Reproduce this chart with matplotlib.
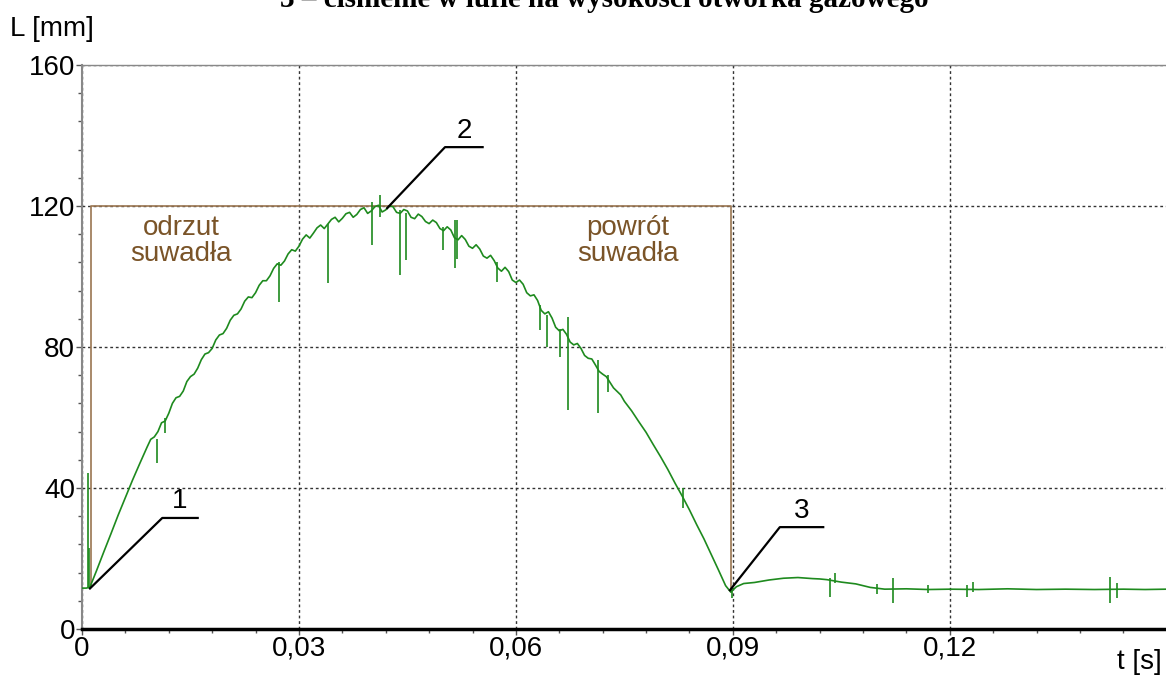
import matplotlib
matplotlib.use('Agg')
import matplotlib.pyplot as plt
from matplotlib.ticker import MultipleLocator, FuncFormatter

# przebieg L(t)
t_s = [0.0, 0.0006, 0.0011, 0.002, 0.003, 0.004, 0.005, 0.006, 0.007, 0.008,
       0.009, 0.0095, 0.010, 0.0105, 0.011, 0.0115, 0.012, 0.0125, 0.013, 0.0135,
       0.014, 0.0145, 0.015, 0.0155, 0.016, 0.0165, 0.017, 0.0175, 0.018, 0.0185,
       0.019, 0.0195, 0.020, 0.0205, 0.021, 0.0215, 0.022, 0.0225, 0.023, 0.0235,
       0.024, 0.0245, 0.025, 0.0255, 0.026, 0.0265, 0.027, 0.0275, 0.028, 0.0285,
       0.029, 0.0295, 0.030, 0.0305, 0.031, 0.0315, 0.032, 0.0325, 0.033, 0.0335,
       0.034, 0.0345, 0.035, 0.0355, 0.036, 0.0365, 0.037, 0.0375, 0.038, 0.0385,
       0.039, 0.0395, 0.040, 0.0405, 0.041, 0.0415, 0.042, 0.0425, 0.043, 0.0435,
       0.044, 0.0445, 0.045, 0.0455, 0.046, 0.0465, 0.047, 0.0475, 0.048, 0.0485,
       0.049, 0.0495, 0.050, 0.0505, 0.051, 0.0515, 0.052, 0.0525, 0.053, 0.0535,
       0.054, 0.0545, 0.055, 0.0555, 0.056, 0.0565, 0.057, 0.0575, 0.058, 0.0585,
       0.059, 0.0595, 0.060, 0.0605, 0.061, 0.0615, 0.062, 0.0625, 0.063, 0.0635,
       0.064, 0.0645, 0.065, 0.0655, 0.066, 0.0665, 0.067, 0.0675, 0.068, 0.0685,
       0.069, 0.0695, 0.070, 0.0705, 0.071, 0.0715, 0.072, 0.0725, 0.073, 0.0735,
       0.074, 0.0745, 0.075, 0.076, 0.077, 0.078, 0.079, 0.080, 0.081, 0.082,
       0.083, 0.084, 0.085, 0.086, 0.087, 0.088, 0.089, 0.0897, 0.0905, 0.0915,
       0.093, 0.095, 0.097, 0.099, 0.101, 0.102, 0.103, 0.105, 0.107, 0.109,
       0.111, 0.114, 0.117, 0.120, 0.124, 0.128, 0.132, 0.136, 0.140, 0.144,
       0.147, 0.150]
L_mm = [11.6, 11.6, 11.9, 16.5, 21.8, 27.0, 32.3, 37.3, 42.3, 47.0,
        51.6, 53.8, 54.5, 56.0, 58.5, 59.0, 61.2, 64.0, 65.6, 66.0,
        67.5, 70.2, 71.6, 72.3, 74.0, 76.4, 78.0, 78.4, 79.6, 82.0,
        83.4, 83.8, 85.3, 87.6, 89.0, 89.4, 90.8, 93.0, 94.2, 94.0,
        95.4, 97.5, 98.8, 98.8, 100.2, 102.3, 103.6, 103.2, 104.4, 106.4,
        107.6, 107.2, 108.6, 110.6, 111.8, 110.9, 112.3, 113.8, 114.6, 113.6,
        114.9, 116.2, 116.8, 115.5, 116.5, 117.8, 118.2, 116.8, 117.6, 119.0,
        119.5, 117.9, 118.6, 119.8, 120.2, 118.3, 118.9, 120.0, 119.8, 118.2,
        117.9, 119.0, 118.6, 116.8, 116.4, 117.7, 117.0, 115.6, 115.0, 116.0,
        115.3, 113.6, 113.0, 114.1, 113.2, 111.0, 110.4, 111.6, 110.5, 108.6,
        108.0, 109.0, 107.8, 105.8, 105.2, 106.0, 104.5, 102.4, 101.5, 102.6,
        101.4, 99.0, 98.3, 99.0, 97.8, 95.4, 94.5, 94.8, 93.2, 90.4,
        89.4, 90.0, 88.2, 85.6, 84.6, 85.0, 83.6, 81.4, 80.6, 81.0,
        79.6, 77.6, 76.8, 76.6, 74.9, 73.1, 72.3, 71.6, 70.0, 68.4,
        67.4, 66.4, 64.6, 61.9, 58.8, 55.8, 52.3, 48.9, 45.3, 41.4,
        37.7, 33.8, 29.6, 25.6, 21.2, 16.8, 12.3, 10.5, 12.0, 12.9,
        13.2, 13.9, 14.4, 14.6, 14.3, 14.2, 14.0, 13.3, 12.8, 11.8,
        11.3, 11.4, 11.2, 11.3, 11.2, 11.4, 11.2, 11.3, 11.2, 11.3,
        11.2, 11.3]

# zaklocenia (szpilki): czas, min, max
spike_t = [0.00083, 0.00097, 0.0104, 0.0115, 0.0272, 0.0340, 0.0401, 0.0412,
           0.0440, 0.0448, 0.0499, 0.0516, 0.0518, 0.0574, 0.0633, 0.0643,
           0.0661, 0.0672, 0.0713, 0.0727, 0.0831, 0.0899, 0.1034, 0.1041,
           0.1100, 0.1121, 0.1170, 0.1224, 0.1232, 0.1421, 0.1431]
spike_lo = [11.6, 11.6, 47.1, 55.6, 92.8, 98.2, 108.9, 117.0,
            100.4, 104.7, 107.5, 102.4, 105.0, 98.4, 84.8, 80.0,
            77.2, 62.1, 61.3, 67.2, 34.3, 8.8, 9.1, 13.0,
            10.0, 7.4, 10.2, 9.1, 10.5, 7.4, 8.8]
spike_hi = [44.3, 23.0, 54.0, 60.0, 104.0, 115.0, 121.1, 123.1,
            119.0, 118.0, 114.0, 116.0, 116.0, 104.0, 92.0, 89.0,
            85.0, 88.5, 76.3, 72.0, 40.0, 12.0, 14.5, 15.9,
            12.8, 14.5, 12.5, 12.5, 13.3, 14.8, 13.0]

# prostokat faz ruchu suwadla
faza_t = [0.00124, 0.00124, 0.0897, 0.0897]
faza_L = [12.0, 120.0, 120.0, 10.5]

# odnosniki 1, 2, 3
odn_nr = ['1', '2', '3']
odn_t = [[0.0011, 0.0111, 0.0160], [0.0422, 0.0502, 0.0554], [0.0896, 0.0965, 0.1025]]
odn_L = [[11.5, 31.5, 31.5], [119.4, 136.7, 136.7], [11.0, 28.9, 28.9]]

GREEN = '#1e8a1e'
BROWN = '#9a7550'
BROWN_TXT = '#7a5428'

plt.rcParams['font.family'] = ['Liberation Sans', 'DejaVu Sans']

fig = plt.figure(figsize=(11.66, 6.75), dpi=100)
ax = fig.add_axes([82 / 1166, 1 - 629 / 675, 1 - 82 / 1166, (629 - 65) / 675])

ax.set_xlim(0, 0.1499)
ax.set_ylim(0, 160)

ax.grid(True, which='major', color='#333333', linestyle=(0, (2, 2)), linewidth=1.0)
ax.set_axisbelow(True)

ax.plot(faza_t, faza_L, color=BROWN, linewidth=1.2, zorder=2)
ax.plot(t_s, L_mm, color=GREEN, linewidth=1.2, zorder=3)
ax.vlines(spike_t, spike_lo, spike_hi, color=GREEN, linewidth=1.2, zorder=3)

for nr, ts, ls in zip(odn_nr, odn_t, odn_L):
    ax.plot(ts, ls, color='black', linewidth=1.6, zorder=4)
    ax.text((ts[1] + ts[2]) / 2, ls[1] + 1.0, nr, fontsize=20, ha='center', va='bottom')

ax.text(0.0137, 110, 'odrzut\nsuwadła', color=BROWN_TXT, fontsize=20, ha='center',
        va='center', linespacing=1.0)
ax.text(0.0755, 110, 'powrót\nsuwadła', color=BROWN_TXT, fontsize=20, ha='center',
        va='center', linespacing=1.0)

ax.xaxis.set_major_locator(MultipleLocator(0.03))
ax.xaxis.set_minor_locator(MultipleLocator(0.006))
ax.yaxis.set_major_locator(MultipleLocator(40))
ax.yaxis.set_minor_locator(MultipleLocator(8))


def fmt_x(v, pos):
    if abs(v) < 1e-9:
        return '0'
    return ('%.2f' % v).replace('.', ',')


ax.xaxis.set_major_formatter(FuncFormatter(fmt_x))
ax.tick_params(axis='both', which='major', labelsize=20, length=4, width=1, color='#555555')
ax.tick_params(axis='both', which='minor', length=3, width=1, color='#555555')
ax.tick_params(axis='y', pad=1)
ax.tick_params(axis='x', pad=1)

ax.spines['left'].set_color('#888888')
ax.spines['left'].set_linewidth(1.5)
ax.spines['bottom'].set_color('black')
ax.spines['bottom'].set_linewidth(2.5)
ax.spines['top'].set_color('#888888')
ax.spines['top'].set_linewidth(1.0)
ax.spines['right'].set_visible(False)

fig.text(10 / 1166, 1 - 36 / 675, 'L [mm]', fontsize=20, ha='left', va='baseline')
fig.text(1162 / 1166, 1 - 669 / 675, 't [s]', fontsize=20, ha='right', va='baseline')
fig.text(604 / 1166, 1 - 7 / 675, '3 – ciśnienie w lufie na wysokości otworka gazowego',
         fontsize=21, fontweight='bold', family=['Liberation Serif', 'DejaVu Serif'],
         ha='center', va='baseline')

fig.savefig('out.png', dpi=100)
